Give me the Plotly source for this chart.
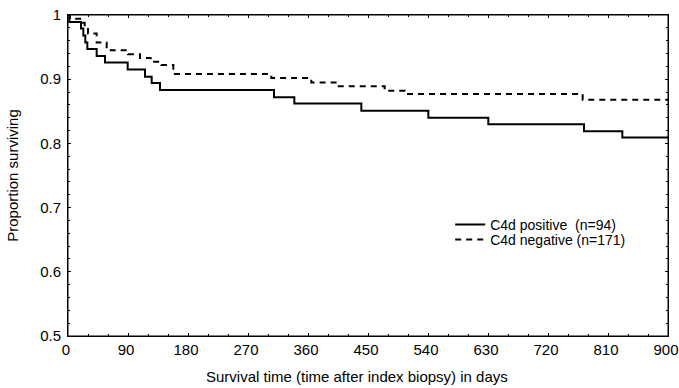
import plotly.graph_objects as go

# Kaplan-Meier step data
pos_days = [0, 2, 19.5, 23, 26, 29, 43, 55.5, 89.5, 115.5, 125.5, 138, 309, 339.5, 440, 540.5, 630.5, 774, 831.5, 900]
pos_surv = [1.0, 0.989, 0.979, 0.968, 0.957, 0.947, 0.936, 0.926, 0.915, 0.904, 0.894, 0.883, 0.872, 0.862, 0.851, 0.840, 0.830, 0.819, 0.809, 0.809]

neg_days = [0, 3, 22, 25, 30, 43, 58, 90, 108, 124, 140, 158, 305, 365, 403, 475, 505, 772, 900]
neg_surv = [1.0, 0.994, 0.988, 0.982, 0.971, 0.957, 0.945, 0.939, 0.933, 0.927, 0.922, 0.908, 0.902, 0.895, 0.889, 0.882, 0.877, 0.868, 0.868]

x_ticks = [0, 90, 180, 270, 360, 450, 540, 630, 720, 810, 900]
y_ticks = [0.5, 0.6, 0.7, 0.8, 0.9, 1.0]
y_tick_labels = ["0.5", "0.6", "0.7", "0.8", "0.9", "1"]

x_title = "Survival time (time after index biopsy) in days"
y_title = "Proportion surviving"

font_family = "Liberation Sans, Arial, sans-serif"
fs = 15

fig = go.Figure()
fig.add_trace(go.Scatter(
    x=pos_days, y=pos_surv, mode="lines", line_shape="hv",
    line=dict(color="black", width=2),
    name="C4d positive  (n=94)", legend="legend",
))
fig.add_trace(go.Scatter(
    x=neg_days, y=neg_surv, mode="lines", line_shape="hv",
    line=dict(color="black", width=2, dash="6px,5px"),
    name="C4d negative (n=171)", legend="legend2",
))

axis_common = dict(
    showline=True, linecolor="black", linewidth=1, mirror="allticks",
    ticks="inside", ticklen=3, tickcolor="black",
    showgrid=False, zeroline=False, automargin=False,
    ticklabeloverflow="allow",
    tickfont=dict(family=font_family, size=fs, color="black"),
)

fig.update_xaxes(
    range=[0, 900], tickvals=x_ticks, ticktext=[str(v) for v in x_ticks],
    ticklabelstandoff=0, ticklabelshift=-2,
    minor=dict(ticks="inside", ticklen=2, dtick=30, tick0=0, tickcolor="black", showgrid=False),
    **axis_common,
)
fig.update_yaxes(
    range=[0.5, 1.0], tickvals=y_ticks, ticktext=y_tick_labels,
    title=dict(text=y_title,
               font=dict(family=font_family, size=fs, color="black"), standoff=17),
    ticklabelstandoff=3,
    minor=dict(ticks="inside", ticklen=2, dtick=0.02, tick0=0.5, tickcolor="black", showgrid=False),
    **axis_common,
)

# plot frame (box around the plotting area)
fig.add_shape(type="rect", xref="x domain", yref="y domain", x0=0, x1=1, y0=0, y1=1,
              line=dict(color="black", width=1), layer="above")

fig.add_annotation(
    text=x_title, xref="paper", yref="paper",
    x=(357 - 68) / 600, y=(336 - 377) / 321, xanchor="center", yanchor="middle",
    showarrow=False, font=dict(family=font_family, size=fs, color="black"),
)

leg_common = dict(
    xanchor="left", yanchor="middle",
    bgcolor="rgba(0,0,0,0)", borderwidth=0,
    font=dict(family=font_family, size=14, color="black"),
    itemwidth=30,
)

fig.update_layout(
    width=679, height=388,
    margin=dict(l=68, r=11, t=15, b=52),
    plot_bgcolor="white", paper_bgcolor="white",
    showlegend=True,
    legend=dict(x=0.637, y=(336 - 225) / 321, **leg_common),
    legend2=dict(x=0.637, y=(336 - 240) / 321, **leg_common),
)

fig.write_html(
    "out.html",
    config={"displayModeBar": False},
    post_script="document.body.style.margin='0';document.body.style.overflow='hidden';",
)
